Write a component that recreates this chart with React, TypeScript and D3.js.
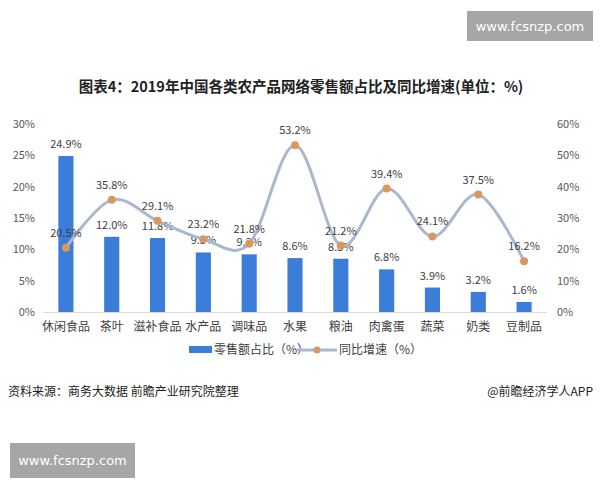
import React from "react";
import * as d3 from "d3";

const categories = ["休闲食品", "茶叶", "滋补食品", "水产品", "调味品", "水果", "粮油", "肉禽蛋", "蔬菜", "奶类", "豆制品"];
const shareValues = [24.9, 12.0, 11.8, 9.5, 9.2, 8.6, 8.5, 6.8, 3.9, 3.2, 1.6];
const growthValues = [20.5, 35.8, 29.1, 23.2, 21.8, 53.2, 21.2, 39.4, 24.1, 37.5, 16.2];
const leftTicks = [0, 5, 10, 15, 20, 25, 30];
const rightTicks = [0, 10, 20, 30, 40, 50, 60];

const FONT = "'Noto Sans CJK SC', 'Noto Sans', sans-serif";
const BAR = "#3b7dd8";
const LINE = "#a9b7cf";
const DOT = "#d9995e";

export default function App() {
  const W = 600, H = 480;
  const x0 = 43, x1 = 547, yTop = 124, yBot = 312;
  const x = d3.scaleBand<string>().domain(categories).range([x0, x1]).paddingInner(0.67).paddingOuter(0.335);
  const yL = d3.scaleLinear().domain([0, 30]).range([yBot, yTop]);
  const yR = d3.scaleLinear().domain([0, 60]).range([yBot, yTop]);
  const cx = (c: string) => (x(c) as number) + x.bandwidth() / 2;
  const pts: [number, number][] = categories.map((c, i) => [cx(c), yR(growthValues[i])]);
  const line = d3.line().curve(d3.curveCardinal.tension(0))(pts) || "";

  return (
    <svg width={W} height={H} style={{ position: "absolute", left: 0, top: 0, background: "#fff", fontFamily: FONT }}>
      <rect x={0} y={0} width={W} height={H} fill="#fff" />
      {/* watermark boxes */}
      <rect x={467} y={11} width={126} height={30} fill="#a6a6a6" />
      <text x={530} y={30.5} textAnchor="middle" fontSize={13} fill="#fff" fontFamily="'DejaVu Sans', sans-serif">www.fcsnzp.com</text>
      <rect x={10} y={443} width={125} height={35} fill="#a6a6a6" />
      <text x={72.5} y={465} textAnchor="middle" fontSize={13} fill="#fff" fontFamily="'DejaVu Sans', sans-serif">www.fcsnzp.com</text>

      {/* title */}
      <text x={301} y={92} textAnchor="middle" fontSize={14.5} fontWeight="bold" fill="#222">
        图表4：2019年中国各类农产品网络零售额占比及同比增速(单位：%)
      </text>

      {/* axis ticks */}
      {leftTicks.map((t) => (
        <text key={"l" + t} x={35} y={yL(t) + 4} textAnchor="end" fontSize={11} fill="#595959">{t + "%"}</text>
      ))}
      {rightTicks.map((t) => (
        <text key={"r" + t} x={557} y={yR(t) + 4} textAnchor="start" fontSize={11} fill="#595959">{t + "%"}</text>
      ))}

      {/* bars */}
      {categories.map((c, i) => (
        <rect key={"b" + c} x={x(c)} y={yL(shareValues[i])} width={x.bandwidth()} height={yBot - yL(shareValues[i])} fill={BAR} />
      ))}
      <line x1={x0} x2={x1} y1={yBot + 0.5} y2={yBot + 0.5} stroke="#d9d9d9" strokeWidth={1} />

      {/* bar labels */}
      {categories.map((c, i) => (
        <text key={"bl" + c} x={cx(c)} y={yL(shareValues[i]) - 8} textAnchor="middle" fontSize={11} fill="#404040">
          {shareValues[i].toFixed(1) + "%"}
        </text>
      ))}

      {/* line */}
      <path d={line} fill="none" stroke={LINE} strokeWidth={3} />
      {pts.map((p, i) => (
        <circle key={"d" + i} cx={p[0]} cy={p[1]} r={4} fill={DOT} />
      ))}
      {categories.map((c, i) => (
        <text key={"ll" + c} x={cx(c)} y={yR(growthValues[i]) - 11} textAnchor="middle" fontSize={11} fill="#404040">
          {growthValues[i].toFixed(1) + "%"}
        </text>
      ))}

      {/* category labels */}
      {categories.map((c) => (
        <text key={"c" + c} x={cx(c)} y={331} textAnchor="middle" fontSize={12} fill="#404040">{c}</text>
      ))}

      {/* legend */}
      <rect x={189} y={346} width={23} height={7} fill={BAR} />
      <text x={214} y={354} fontSize={12} fill="#404040">零售额占比（%）</text>
      <line x1={297} x2={337} y1={350} y2={350} stroke={LINE} strokeWidth={3} />
      <circle cx={317} cy={350} r={3.5} fill={DOT} />
      <text x={339} y={354} fontSize={12} fill="#404040">同比增速（%）</text>

      {/* footer */}
      <text x={8} y={396} fontSize={12} fill="#222">资料来源：商务大数据 前瞻产业研究院整理</text>
      <text x={593} y={396} textAnchor="end" fontSize={12} fill="#222">@前瞻经济学人APP</text>
    </svg>
  );
}
